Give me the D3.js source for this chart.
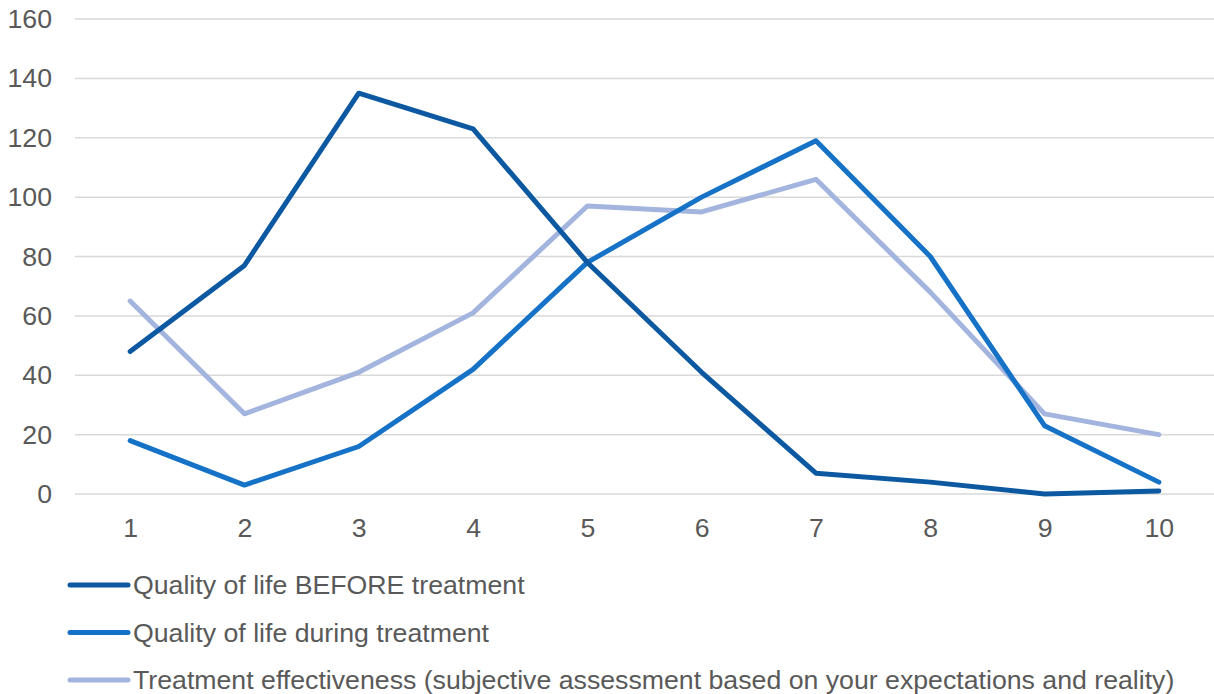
<!DOCTYPE html>
<html>
<head>
<meta charset="utf-8">
<script src="https://cdn.jsdelivr.net/npm/d3@7"></script>
<style>
  body { margin: 0; background: #fff; }
  svg { display: block; font-family: "Liberation Sans", Arial, sans-serif; }
</style>
</head>
<body>
<svg id="chart" width="1214" height="694"></svg>
<script>
var categories = ["1", "2", "3", "4", "5", "6", "7", "8", "9", "10"];
var before = [48, 77, 135, 123, 78, 41, 7, 4, 0, 1];
var during = [18, 3, 16, 42, 78, 100, 119, 80, 23, 4];
var effectiveness = [65, 27, 41, 61, 97, 95, 106, 68, 27, 20];
var yTicks = [0, 20, 40, 60, 80, 100, 120, 140, 160];

var seriesNames = [
  "Quality of life BEFORE treatment",
  "Quality of life during treatment",
  "Treatment effectiveness (subjective assessment based on your expectations and reality)"
];
var seriesColors = ["#0c59a2", "#1572c6", "#a3b5de"];
var seriesData = [before, during, effectiveness];

var fontSize = 26.7;
var svg = d3.select("#chart");

var x = d3.scalePoint().domain(categories).range([73, 1216]).padding(0.5);
var y = d3.scaleLinear().domain([0, 160]).range([494, 19]);

// gridlines
svg.append("g")
  .selectAll("line")
  .data(yTicks)
  .enter()
  .append("line")
  .attr("x1", 75).attr("x2", 1214)
  .attr("y1", function (d) { return y(d); })
  .attr("y2", function (d) { return y(d); })
  .attr("stroke", "#d9d9d9")
  .attr("stroke-width", 1.5);

// y axis labels
var yAxis = svg.append("g")
  .attr("transform", "translate(58,0)")
  .call(d3.axisLeft(y).tickValues(yTicks).tickSize(0).tickPadding(6));
yAxis.select(".domain").remove();
yAxis.selectAll("text")
  .attr("font-size", fontSize)
  .attr("fill", "#595959")
  .attr("font-family", "Liberation Sans, Arial, sans-serif");

// x axis labels
var xAxis = svg.append("g")
  .attr("transform", "translate(0,512)")
  .call(d3.axisBottom(x).tickSize(0).tickPadding(6));
xAxis.select(".domain").remove();
xAxis.selectAll("text")
  .attr("font-size", fontSize)
  .attr("fill", "#595959")
  .attr("font-family", "Liberation Sans, Arial, sans-serif");

var line = d3.line()
  .x(function (d, i) { return x(categories[i]); })
  .y(function (d) { return y(d); });

// draw series, last one first so the dark line stays on top
for (var s = seriesData.length - 1; s >= 0; s--) {
  svg.append("path")
    .datum(seriesData[s])
    .attr("d", line)
    .attr("fill", "none")
    .attr("stroke", seriesColors[s])
    .attr("stroke-width", 5)
    .attr("stroke-linejoin", "round")
    .attr("stroke-linecap", "round");
}

// legend
var legend = svg.append("g");
seriesNames.forEach(function (name, i) {
  var ly = 585 + i * 47.5;
  legend.append("line")
    .attr("x1", 70).attr("x2", 128)
    .attr("y1", ly).attr("y2", ly)
    .attr("stroke", seriesColors[i])
    .attr("stroke-width", 5)
    .attr("stroke-linecap", "round");
  legend.append("text")
    .attr("x", 133)
    .attr("y", ly)
    .attr("dy", "0.35em")
    .attr("font-size", fontSize)
    .attr("fill", "#595959")
    .text(name);
});
</script>
</body>
</html>
